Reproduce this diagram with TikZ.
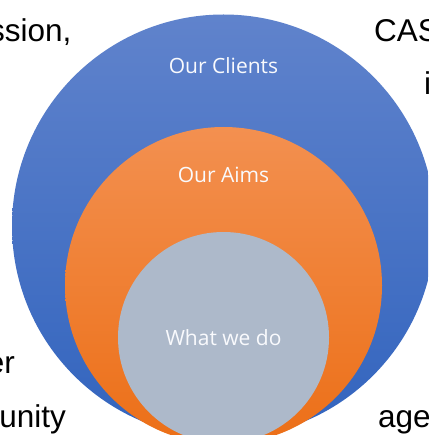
\documentclass[tikz,border=0pt]{standalone}
\usepackage{fontspec}
\setmainfont{Liberation Sans}
\newfontfamily\labelfont{Open Sans}
\tikzset{
  disc/.style={circle,minimum size=#1,inner sep=0pt,outer sep=0pt,draw=none},
  bluefill/.style={top color=blue1,bottom color=blue2},
  orangefill/.style={top color=orange1,bottom color=orange2},
  inlabel/.style={text=white!96!blue1,font=\labelfont\fontsize{21}{24}\selectfont,inner sep=0pt,anchor=base},
  backtext/.style={text=black,font=\fontsize{31.5}{34}\selectfont,inner sep=0pt}
}
\definecolor{blue1}{HTML}{6083CC}
\definecolor{blue2}{HTML}{3264BE}
\definecolor{orange1}{HTML}{F39050}
\definecolor{orange2}{HTML}{EC6F17}
\definecolor{gray1}{HTML}{ADB9CA}
\begin{document}
\begin{tikzpicture}[x=1pt,y=-1pt]
\useasboundingbox (0,0) rectangle (428,435);
\clip (0,0) rectangle (428,435);
\fill[white] (0,0) rectangle (428,435);
\node[backtext,anchor=base east] (t1) at (71.5,42) {ssion,};
\node[backtext,anchor=base west] (t2) at (374,42) {CAS};
\node[backtext,anchor=base west] (t3) at (424,95) {i};
\node[backtext,anchor=base east] (t4) at (15,373) {er};
\node[backtext,anchor=base east] (t5) at (66,427) {unity};
\node[backtext,anchor=base west] (t6) at (378,427) {age};
\node[disc=423pt,bluefill] (outer) at (223.5,226) {};
\node[disc=317pt,orangefill] (mid) at (223.5,285.5) {};
\node[disc=211pt,fill=gray1] (inner) at (223.5,337.5) {};
\node[inlabel] (l1) at (223.5,74) {Our Clients};
\node[inlabel] (l2) at (223.5,183) {Our Aims};
\node[inlabel] (l3) at (223.5,345) {What we do};
\end{tikzpicture}
\end{document}
